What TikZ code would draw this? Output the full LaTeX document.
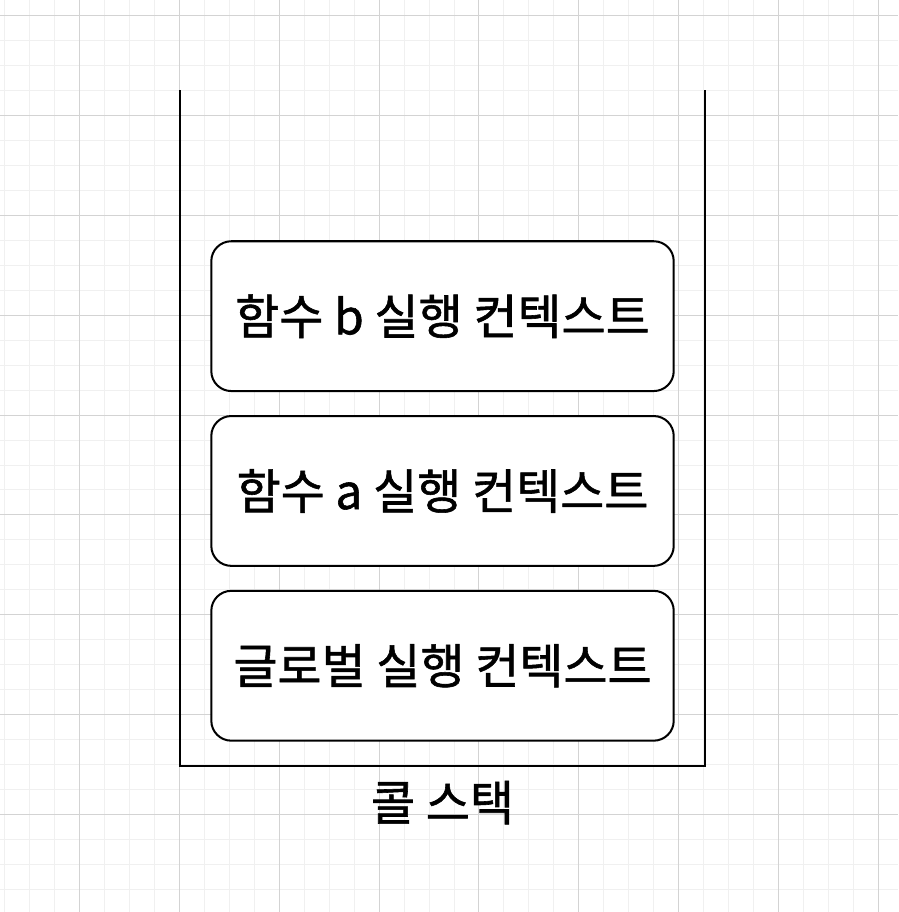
\documentclass[tikz,border=0pt]{standalone}
\usepackage{fontspec}
\setmainfont{Noto Sans CJK KR}[FakeBold=1.2]
\usetikzlibrary{positioning}
\definecolor{gridminor}{HTML}{F0F0F0}
\definecolor{gridmajor}{HTML}{D3D3D3}
\tikzset{
  every picture/.style={font=\fontsize{27.3}{32}\selectfont,text=black},
  frame/.style={draw=black,line width=1.15pt},
  context/.style={frame,rounded corners=0.4cm,fill=white,
    minimum width=9.26cm,minimum height=3cm,inner sep=0pt},
}
\begin{document}
\begin{tikzpicture}[x=0.02cm,y=-0.02cm]
  % background grid, minor then major lines
  \fill[white] (0,0) rectangle (898,912);
  \foreach \gx in {4,29,...,898} \draw[gridminor,line width=0.55pt] (\gx,0) -- (\gx,912);
  \foreach \gy in {15,40,...,912} \draw[gridminor,line width=0.55pt] (0,\gy) -- (898,\gy);
  \foreach \gx in {79,179,...,898} \draw[gridmajor,line width=0.55pt] (\gx,0) -- (\gx,912);
  \foreach \gy in {15,115,...,912} \draw[gridmajor,line width=0.55pt] (0,\gy) -- (898,\gy);
  % the stack, open at the top
  \coordinate (stacktl) at (180,90);
  \coordinate (stackbl) at (180,766);
  \coordinate (stackbr) at (705,766);
  \coordinate (stacktr) at (705,90);
  \draw[frame] (stacktl) -- (stackbl) -- (stackbr) -- (stacktr);
  \node[context] (ctxb) at (442.5,316) {함수 b 실행 컨텍스트};
  \node[context,below=0.46cm of ctxb] (ctxa) {함수 a 실행 컨텍스트};
  \node[context,below=0.46cm of ctxa] (ctxglobal) {글로벌 실행 컨텍스트};
  \node (stacklabel) at (442.5,803) {콜 스택};
  \path[use as bounding box] (0,0) rectangle (898,912);
\end{tikzpicture}
\end{document}
